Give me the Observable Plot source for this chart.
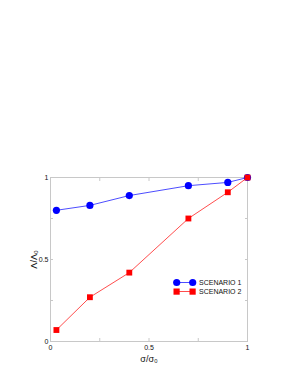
<!DOCTYPE html>
<html><head><meta charset="utf-8">
<script src="https://cdn.jsdelivr.net/npm/d3@7"></script>
<script src="https://cdn.jsdelivr.net/npm/@observablehq/plot@0.6"></script>
<style>
body{margin:0;background:#fff}
#wrap{position:relative;width:298px;height:385px;font-family:"Liberation Sans",Arial,sans-serif}
#legend{position:absolute;left:172px;top:278px;font-size:7px;color:#111;line-height:9px}
#legend .row{display:flex;align-items:center;height:9px}
#legend svg{display:block;margin-right:1px}
</style>
</head><body><div id="wrap"></div>
<script>
const sigma = [0.03, 0.2, 0.4, 0.7, 0.9, 1.0];
const scenario1 = [0.80, 0.83, 0.89, 0.95, 0.97, 1.0];
const scenario2 = [0.07, 0.27, 0.42, 0.75, 0.91, 1.0];
const seriesNames = ["SCENARIO 1", "SCENARIO 2"];
const seriesColors = ["#0000ff", "#ff0000"];
const tickValues = [0, 0.25, 0.5, 0.75, 1];
const labeledTicks = [0, 0.5, 1];
const xLabel = "σ/σ₀";
const yLabel = "Λ/Λ₀";

const s1 = sigma.map((x, i) => ({x, y: scenario1[i]}));
const s2 = sigma.map((x, i) => ({x, y: scenario2[i]}));
const fmt = d => labeledTicks.includes(d) ? String(d) : "";

const chart = Plot.plot({
  width: 298, height: 385,
  marginLeft: 50, marginRight: 51, marginTop: 177, marginBottom: 44,
  style: {fontFamily: '"Liberation Sans", Arial, sans-serif', fontSize: "7px", color: "#111", background: "#fff"},
  x: {domain: [0, 1]},
  y: {domain: [0, 1]},
  marks: [
    Plot.frame({stroke: "#c8c8c8"}),
    Plot.axisX({anchor: "bottom", ticks: tickValues, tickSize: -3, tickFormat: fmt, stroke: "#c8c8c8", tickPadding: 7, label: null}),
    Plot.axisX({anchor: "bottom", ticks: [], label: xLabel, labelAnchor: "center", labelArrow: "none", labelOffset: 20, fontSize: 9}),
    Plot.axisX({anchor: "top", ticks: tickValues, tickSize: -3, text: null, stroke: "#c8c8c8", label: null}),
    Plot.axisY({anchor: "left", ticks: tickValues, tickSize: -3, tickFormat: fmt, stroke: "#c8c8c8", tickPadding: 5, label: null}),
    Plot.axisY({anchor: "left", ticks: [], label: yLabel, labelAnchor: "center", labelArrow: "none", labelOffset: 20, fontSize: 9}),
    Plot.axisY({anchor: "right", ticks: tickValues, tickSize: -3, text: null, stroke: "#c8c8c8", label: null}),
    Plot.line(s1, {x: "x", y: "y", stroke: seriesColors[0], strokeWidth: 0.7}),
    Plot.dot(s1, {x: "x", y: "y", r: 3.6, fill: seriesColors[0], stroke: "none"}),
    Plot.line(s2, {x: "x", y: "y", stroke: seriesColors[1], strokeWidth: 0.7}),
    Plot.dot(s2, {x: "x", y: "y", r: 3.3, symbol: "square", fill: seriesColors[1], stroke: "none"})
  ]
});
const wrap = document.getElementById("wrap");
wrap.appendChild(chart);

const legend = document.createElement("div");
legend.id = "legend";
seriesNames.forEach((name, i) => {
  const row = document.createElement("div");
  row.className = "row";
  const marker = i === 0
    ? `<circle cx="4.7" cy="4.5" r="3.6" fill="${seriesColors[i]}"/><circle cx="20.7" cy="4.5" r="3.6" fill="${seriesColors[i]}"/>`
    : `<rect x="1.5" y="1.5" width="6.2" height="6.2" fill="${seriesColors[i]}"/><rect x="17.5" y="1.5" width="6.2" height="6.2" fill="${seriesColors[i]}"/>`;
  row.innerHTML = `<svg width="26" height="9"><line x1="4.7" x2="20.7" y1="4.5" y2="4.5" stroke="${seriesColors[i]}" stroke-width="0.7"/>${marker}</svg><span>${name}</span>`;
  legend.appendChild(row);
});
wrap.appendChild(legend);
</script>
</body></html>
